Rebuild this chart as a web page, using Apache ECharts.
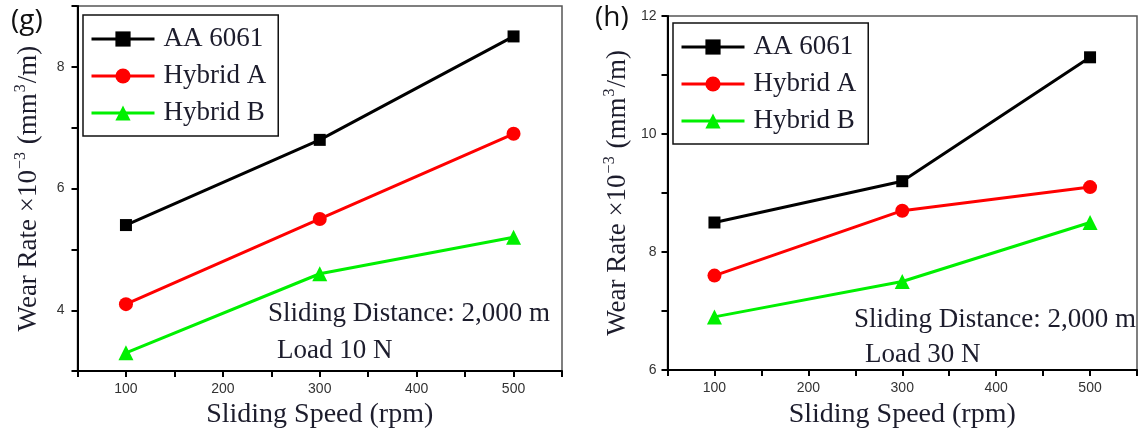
<!DOCTYPE html>
<html>
<head>
<meta charset="utf-8">
<script src="https://cdn.jsdelivr.net/npm/echarts@6/dist/echarts.min.js"></script>
<style>
  html, body { margin: 0; padding: 0; background: #fff; }
  #chart { width: 1140px; height: 434px; }
</style>
</head>
<body>
<div id="chart"></div>
<script>
  // sliding speed (rpm)
  const speeds = [100, 300, 500];
  const seriesNames = ['AA 6061', 'Hybrid A', 'Hybrid B'];

  // (g) load 10 N
  const aa6061G = [5.4, 6.8, 8.5];
  const hybridAG = [4.1, 5.5, 6.9];
  const hybridBG = [3.3, 4.6, 5.2];

  // (h) load 30 N
  const aa6061H = [8.5, 9.2, 11.3];
  const hybridAH = [7.6, 8.7, 9.1];
  const hybridBH = [6.9, 7.5, 8.5];

  const serif = '"Liberation Serif", "DejaVu Serif", serif';
  const sans = '"Liberation Sans", Arial, sans-serif';
  const textColor = '#1c1c2c';

  const colors = ['#000000', '#ff0000', '#00f000'];
  const symbols = ['rect', 'circle', 'triangle'];
  const symbolSizes = [12, 14, 15];

  const pairs = (vals) => vals.map((v, i) => [speeds[i], v]);

  const makeSeries = (values, idx) =>
    values.map((vals, i) => ({
      name: seriesNames[i],
      type: 'line',
      xAxisIndex: idx,
      yAxisIndex: idx,
      data: pairs(vals),
      symbol: symbols[i],
      symbolSize: symbolSizes[i],
      lineStyle: { color: colors[i], width: 3 },
      itemStyle: { color: colors[i] },
      z: 3 + i,
      animation: false,
    }));

  const xAxisBase = (gridIndex, nameGap) => ({
    gridIndex,
    type: 'value',
    min: 50,
    max: 550,
    interval: 50,
    name: 'Sliding Speed (rpm)',
    nameLocation: 'middle',
    nameGap,
    nameTextStyle: { fontFamily: serif, fontSize: 28, color: textColor },
    axisLine: { onZero: false, lineStyle: { color: '#000', width: 2 } },
    axisTick: { show: true, length: 6, inside: false, lineStyle: { color: '#000', width: 2 } },
    axisLabel: {
      margin: 11,
      fontFamily: sans,
      fontSize: 14,
      color: '#333',
      formatter: (v) => (v % 100 === 0 ? String(v) : ''),
    },
    splitLine: { show: false },
  });

  const yTitle = '{a|Wear Rate ×10}{s|−3}{a| (mm}{s|3}{a|/m)}';

  const yAxisBase = (gridIndex, min, max, nameGap, margin) => ({
    gridIndex,
    type: 'value',
    min,
    max,
    interval: 1,
    name: yTitle,
    nameLocation: 'middle',
    nameGap,
    nameTextStyle: {
      rich: {
        a: { fontFamily: serif, fontSize: 27, color: textColor, lineHeight: 30, verticalAlign: 'bottom' },
        s: { fontFamily: serif, fontSize: 16, color: textColor, lineHeight: 30, verticalAlign: 'top', padding: [0, 1, 0, 1] },
      },
    },
    axisLine: { lineStyle: { color: '#000', width: 2 } },
    axisTick: { show: true, length: 6, lineStyle: { color: '#000', width: 2 } },
    axisLabel: {
      margin,
      fontFamily: sans,
      fontSize: 14,
      color: '#333',
      formatter: (v) => (v % 2 === 0 ? String(v) : ''),
    },
    splitLine: { show: false },
  });

  const legendBase = (left, top) => ({
    orient: 'vertical',
    left,
    top,
    data: seriesNames,
    itemWidth: 63,
    itemHeight: 19,
    itemGap: 7,
    borderColor: '#111',
    borderWidth: 1.5,
    borderRadius: 0,
    padding: [9, 12, 8, 7],
    lineStyle: { width: 3 },
    textStyle: { fontFamily: serif, fontSize: 27, color: textColor, lineHeight: 30, padding: [0, 0, 0, 4] },
    selectedMode: false,
  });

  const note = (x, y, text) => ({
    type: 'text',
    left: x,
    top: y,
    style: { text, font: '27px ' + serif, fill: textColor },
    z: 10,
  });

  const option = {
    backgroundColor: '#fff',
    animation: false,
    grid: [
      { left: 77.5, top: 6, width: 484.5, height: 366, show: true, borderColor: '#555', borderWidth: 1.5 },
      { left: 667.5, top: 16, width: 476, height: 356.5, show: true, borderColor: '#555', borderWidth: 1.5 },
    ],
    xAxis: [xAxisBase(0, 25), xAxisBase(1, 31)],
    yAxis: [yAxisBase(0, 3, 9, 35, 13), yAxisBase(1, 6, 12, 36, 11)],
    legend: [legendBase(83, 15), legendBase(673, 23)],
    graphic: [
      { type: 'text', left: 11, top: 7, style: { text: '(g)', font: '28px "Open Sans", "Noto Sans", sans-serif', fill: '#111' } },
      { type: 'text', left: 595, top: 4, style: { text: '(h)', font: '28px "Open Sans", "Noto Sans", sans-serif', fill: '#111' } },
      note(268, 300, 'Sliding Distance: 2,000 m'),
      note(277, 337, 'Load 10 N'),
      note(854, 306, 'Sliding Distance: 2,000 m'),
      note(865, 341, 'Load 30 N'),
    ],
    series: [
      ...makeSeries([aa6061G, hybridAG, hybridBG], 0),
      ...makeSeries([aa6061H, hybridAH, hybridBH], 1),
    ],
  };

  const chart = echarts.init(document.getElementById('chart'));
  chart.setOption(option);
</script>
</body>
</html>
